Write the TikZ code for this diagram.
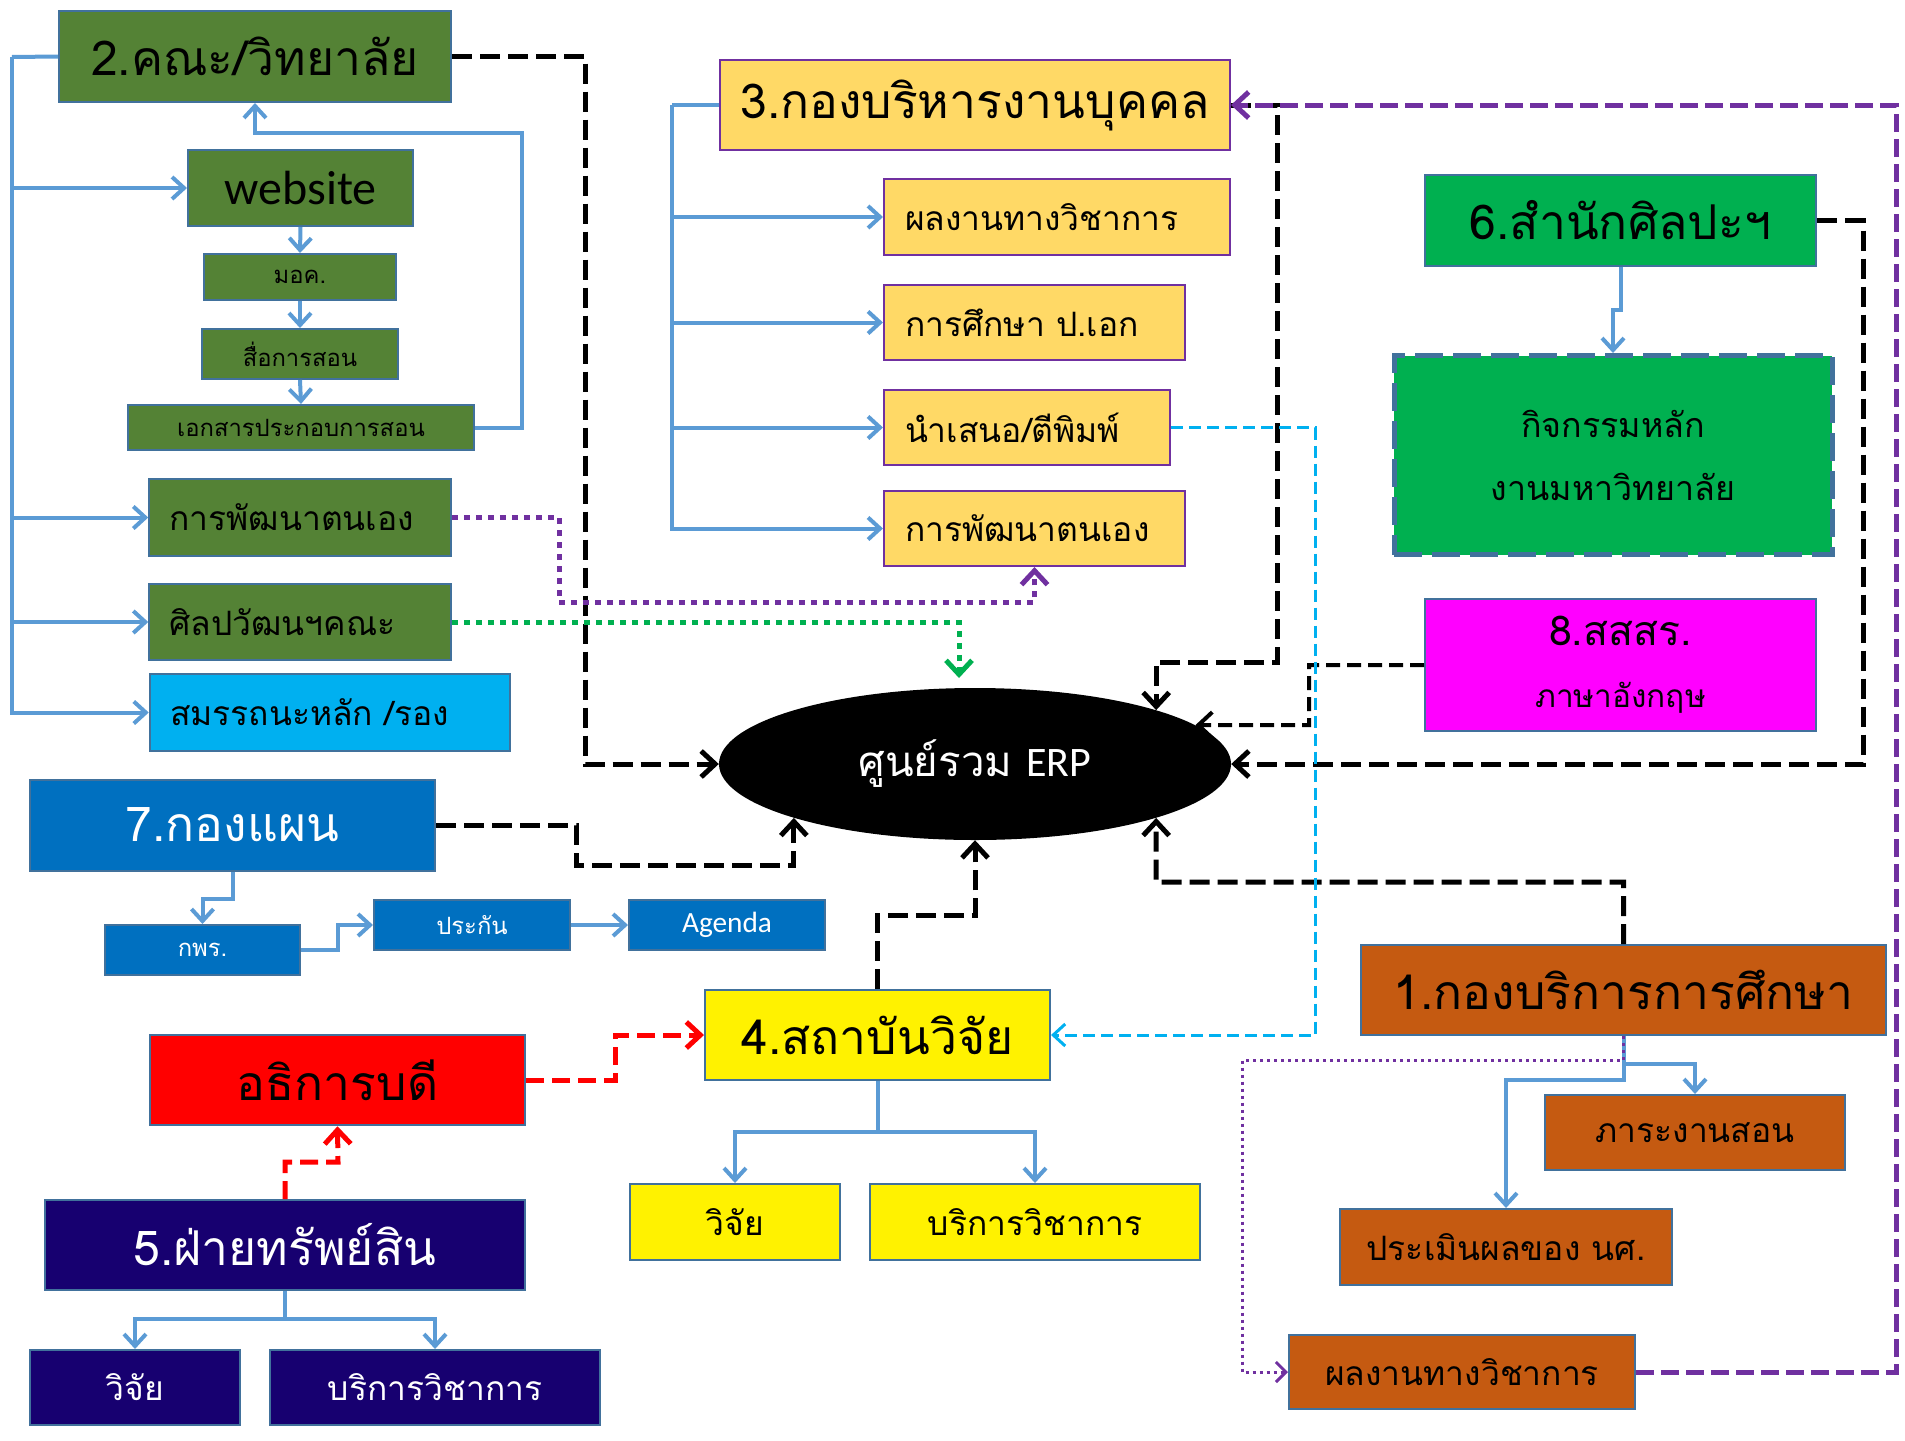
\documentclass[tikz,border=0pt]{standalone}
\usepackage{fontspec}
\setmainfont{Loma}[Script=Thai]
\newfontfamily\carl{Carlito}
\usetikzlibrary{arrows.meta,shapes.geometric}

\definecolor{facgreen}{HTML}{548235}
\definecolor{edge}{HTML}{41719C}
\definecolor{hryellow}{HTML}{FFD966}
\definecolor{purp}{HTML}{7030A0}
\definecolor{skyb}{HTML}{00B0F0}
\definecolor{artgreen}{HTML}{00B050}
\definecolor{ssspink}{HTML}{FF00FF}
\definecolor{planblue}{HTML}{0070C0}
\definecolor{navyblue}{HTML}{170070}
\definecolor{edubrown}{HTML}{C55A11}
\definecolor{link}{HTML}{5B9BD5}

\begin{document}
\begin{tikzpicture}[x=1pt,y=-1pt,
  box/.style={draw=edge, line width=2pt, inner sep=0pt, align=center},
  title/.style={font=\fontsize{48}{54}\selectfont},
  sub/.style={font=\fontsize{33.6}{40}\selectfont},
  small/.style={font=\fontsize{23.8}{28}\selectfont},
  lft/.style={text width=#1, align=left},
  blu/.style={link, line width=4pt, -{Straight Barb[length=12pt,width=22pt]}},
  blk/.style={black, line width=5pt, dash pattern=on 20pt off 8pt, -{Straight Barb[length=14pt,width=26pt]}},
  rdd/.style={red, line width=5pt, dash pattern=on 18pt off 8pt, -{Straight Barb[length=14pt,width=26pt]}},
  pdot/.style={purp, line width=5pt, dash pattern=on 6pt off 6pt, -{Straight Barb[length=14pt,width=26pt]}},
  gdot/.style={artgreen, line width=5pt, dash pattern=on 6pt off 6pt, -{Straight Barb[length=14pt,width=26pt]}},
  pdash/.style={purp, line width=5pt, dash pattern=on 18pt off 7pt, -{Straight Barb[length=14pt,width=26pt]}},
  pthin/.style={purp, line width=3pt, dash pattern=on 3pt off 4pt, -{Straight Barb[length=10pt,width=20pt]}},
  cyd/.style={skyb, line width=3pt, dash pattern=on 12pt off 6pt, -{Straight Barb[length=12pt,width=22pt]}}]
\useasboundingbox (0,0) rectangle (1905,1440);

\node[box, fill=facgreen, title, minimum width=392pt, minimum height=91pt] (fac) at (255,56.5) {2.คณะ/วิทยาลัย};
\node[box, fill=facgreen, font={\fontsize{48}{54}\selectfont\carl}, minimum width=225pt, minimum height=76pt] (web) at (300.5,188) {website};
\node[box, fill=facgreen, small, minimum width=192pt, minimum height=46pt] (mok) at (300,277) {มอค.};
\node[box, fill=facgreen, small, minimum width=196pt, minimum height=50pt] (media) at (300,354) {สื่อการสอน};
\node[box, fill=facgreen, small, minimum width=346pt, minimum height=45pt] (doc) at (301,427.5) {เอกสารประกอบการสอน};
\node[box, fill=facgreen, sub, minimum width=301.5pt, minimum height=77pt, lft=261pt] (devg) at (300,517.5) {การพัฒนาตนเอง};
\node[box, fill=facgreen, sub, minimum width=301.5pt, minimum height=76pt, lft=261pt] (artf) at (300,622) {ศิลปวัฒนฯคณะ};
\node[box, fill=skyb, sub, minimum width=360.5pt, minimum height=77pt, lft=320pt] (sm) at (330,712.5) {สมรรถนะหลัก /รอง};

\node[box, draw=purp, fill=hryellow, title, minimum width=510pt, minimum height=90pt] (hr) at (975,105) {3.กองบริหารงานบุคคล};
\node[box, draw=purp, fill=hryellow, sub, minimum width=346pt, minimum height=76pt, lft=304pt] (acad) at (1057,217) {ผลงานทางวิชาการ};
\node[box, draw=purp, fill=hryellow, sub, minimum width=301pt, minimum height=75pt, lft=259pt] (phd) at (1034.5,322.5) {การศึกษา ป.เอก};
\node[box, draw=purp, fill=hryellow, sub, minimum width=286pt, minimum height=75pt, lft=244pt] (pub) at (1027,427.5) {นำเสนอ/ตีพิมพ์};
\node[box, draw=purp, fill=hryellow, sub, minimum width=301pt, minimum height=75pt, lft=259pt] (devy) at (1034.5,528.5) {การพัฒนาตนเอง};

\node[box, fill=artgreen, title, minimum width=391pt, minimum height=91pt] (art) at (1620.5,220.5) {6.สำนักศิลปะฯ};
\node[box, fill=artgreen, line width=5pt, dash pattern=on 28pt off 10pt, font=\fontsize{34}{63}\selectfont, minimum width=438pt, minimum height=199pt] (core) at (1613,455) {กิจกรรมหลัก\\งานมหาวิทยาลัย};
\node[box, fill=ssspink, font=\fontsize{41}{62}\selectfont, minimum width=391pt, minimum height=132pt] (sss) at (1620.5,665) {8.สสสร.\\{\fontsize{31.6}{40}\selectfont ภาษาอังกฤษ}};

\node[ellipse, fill=black, text=white, inner sep=0pt, minimum width=512pt, minimum height=152pt, font=\fontsize{42}{48}\selectfont] (erp) at (975,764) {ศูนย์รวม {\carl ERP}};

\node[box, fill=planblue, text=white, title, minimum width=405pt, minimum height=91pt] (plan) at (232.5,825) {7.กองแผน};
\node[box, fill=planblue, text=white, small, minimum width=195pt, minimum height=50pt] (kpr) at (202.5,950) {กพร.};
\node[box, fill=planblue, text=white, small, minimum width=196pt, minimum height=49.5pt] (qa) at (472,925) {ประกัน};
\node[box, fill=planblue, text=white, font={\fontsize{29.3}{34}\selectfont\carl}, minimum width=196pt, minimum height=49.5pt] (agenda) at (727,925) {Agenda};

\node[box, fill=red, title, minimum width=375pt, minimum height=90.5pt] (pres) at (337.5,1080) {อธิการบดี};
\node[box, fill=yellow, title, minimum width=345pt, minimum height=90.5pt] (res) at (877.5,1035) {4.สถาบันวิจัย};
\node[box, fill=yellow, sub, minimum width=210pt, minimum height=76pt] (rv) at (735,1222) {วิจัย};
\node[box, fill=yellow, sub, minimum width=330pt, minimum height=76pt] (rs) at (1035,1222) {บริการวิชาการ};

\node[box, fill=navyblue, text=white, title, minimum width=480pt, minimum height=90pt] (asset) at (285,1245) {5.ฝ่ายทรัพย์สิน};
\node[box, fill=navyblue, text=white, sub, minimum width=210pt, minimum height=75pt] (av) at (135,1387.5) {วิจัย};
\node[box, fill=navyblue, text=white, sub, minimum width=330pt, minimum height=75pt] (asv) at (435,1387.5) {บริการวิชาการ};

\node[box, fill=edubrown, title, minimum width=525pt, minimum height=90pt] (edu) at (1623.5,990) {1.กองบริการการศึกษา};
\node[box, fill=edubrown, sub, minimum width=300.5pt, minimum height=75pt] (load) at (1695,1132.5) {ภาระงานสอน};
\node[box, fill=edubrown, sub, minimum width=331.5pt, minimum height=76pt] (eval) at (1506,1247) {ประเมินผลของ นศ.};
\node[box, fill=edubrown, sub, minimum width=346pt, minimum height=74pt] (acad2) at (1462,1372) {ผลงานทางวิชาการ};

\coordinate (t2) at (12,57);
\coordinate (t3) at (672,105);
\coordinate (gtip) at (959,678);

\draw[blu, -] (fac.west) -- (t2);
\foreach \n in {web,devg,artf,sm}
  \draw[blu] (t2) |- (\n.west);
\draw[blu] (web.south) -- (mok.north);
\draw[blu] (mok.south) -- (media.north);
\draw[blu] (media.south) -- (doc.north);
\draw[blu] (doc.east) -| (522,133) -| (fac.south);
\draw[blu, -] (hr.west) -- (t3);
\foreach \n in {acad,phd,pub,devy}
  \draw[blu] (t3) |- (\n.west);
\draw[blu] (art.south) |- (1613,310) -- (core.north);
\draw[blu] (plan.south) |- (202.5,899) -- (kpr.north);
\draw[blu] (kpr.east) -| (338,925) -- (qa.west);
\draw[blu] (qa) -- (agenda);
\draw[blu] (res.south) |- (735,1132) -- (rv.north);
\draw[blu] (res.south) |- (1035,1132) -- (rs.north);
\draw[blu] (asset.south) |- (135,1319) -- (av.north);
\draw[blu] (asset.south) |- (435,1319) -- (asv.north);
\draw[blu] (edu.south) |- (1695,1064) -- (load.north);
\draw[blu] (edu.south) |- (1506,1080) -- (eval.north);

\draw[blk] (fac.east) -| (585,764) -- (erp.west);
\draw[blk] (hr.east) -| (1277,662) -| (erp.north east);
\draw[blk] (art.east) -| (1863,764) -- (erp.east);
\draw[blk, line width=4pt, dash pattern=on 14pt off 7pt] (sss.west) -| (1309,725) -- (erp.10);
\draw[blk] (plan.east) -| (576,865) -| (erp.south west);
\draw[blk] (res.north) |- (975,915) -- (erp.south);
\draw[blk] (edu.north) |- (1156,882) -- (erp.south east);

\draw[pdot] (devg.east) -| (559,602) -| (devy.south);
\draw[gdot] (artf.east) -| (gtip);
\draw[cyd] (pub.east) -| (1315,1035) -- (res.east);
\draw[rdd] (pres.east) -| (615,1035) -- (res.west);
\draw[rdd] (asset.north) |- (338,1162) -- (pres.south);
\draw[pdash] (acad2.east) -| (1896,105) -- (hr.east);
\draw[pthin] (edu.south) |- (1242,1060) |- (acad2.west);
\end{tikzpicture}
\end{document}
